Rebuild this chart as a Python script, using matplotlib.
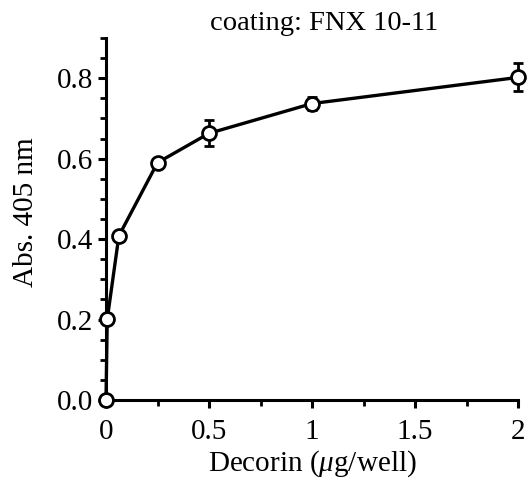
import matplotlib
matplotlib.use("Agg")
import matplotlib.pyplot as plt
from matplotlib.ticker import MultipleLocator

decorin = [0.0, 0.006, 0.0625, 0.25, 0.5, 1.0, 2.0]
absorb = [0.0, 0.201, 0.408, 0.590, 0.663, 0.737, 0.802]
err = [0.012, 0.006, 0.006, 0.008, 0.032, 0.016, 0.035]
xticks = [0, 0.5, 1, 1.5, 2]
xticklabels = ["0", "0.5", "1", "1.5", "2"]
yticks = [0.0, 0.2, 0.4, 0.6, 0.8]
yticklabels = ["0.0", "0.2", "0.4", "0.6", "0.8"]

plt.rcParams['font.family'] = ['Liberation Serif', 'DejaVu Serif']
plt.rcParams['mathtext.fontset'] = 'custom'
plt.rcParams['mathtext.it'] = 'Liberation Serif:italic'
plt.rcParams['mathtext.rm'] = 'Liberation Serif'

fig = plt.figure(figsize=(5.28, 4.8), dpi=100)
ax = fig.add_axes([106/528, 80/480, 412/528, 362/480])

ax.errorbar(decorin, absorb, yerr=err, color='black', lw=2.4, marker='o',
            ms=10, mfc='white', mec='black', mew=2.0, capsize=3.5, capthick=2.0,
            elinewidth=2.0, clip_on=False, zorder=3)

ax.set_xlim(0, 2)
ax.set_ylim(0, 0.9)
ax.set_xticks(xticks)
ax.set_xticklabels(xticklabels)
ax.set_yticks(yticks)
ax.set_yticklabels(yticklabels)
ax.xaxis.set_minor_locator(MultipleLocator(0.25))
ax.yaxis.set_minor_locator(MultipleLocator(0.05))

for s in ['top', 'right']:
    ax.spines[s].set_visible(False)
for s in ['left', 'bottom']:
    ax.spines[s].set_linewidth(2.2)

ax.tick_params(which='major', direction='out', length=6, width=2.2, labelsize=21, pad=3)
ax.tick_params(axis='x', which='major', pad=8)
ax.tick_params(which='minor', direction='out', length=4, width=2)

ax.set_xlabel(r"Decorin ($\mathit{\mu}$g/well)", fontsize=21, labelpad=2)
ax.set_ylabel("Abs. 405 nm", fontsize=21)
ax.yaxis.set_label_coords(-0.163, 0.52)
ax.set_title("coating: FNX 10-11", fontsize=20.5, x=0.53, y=1.0)

fig.savefig("out.png", dpi=100)
